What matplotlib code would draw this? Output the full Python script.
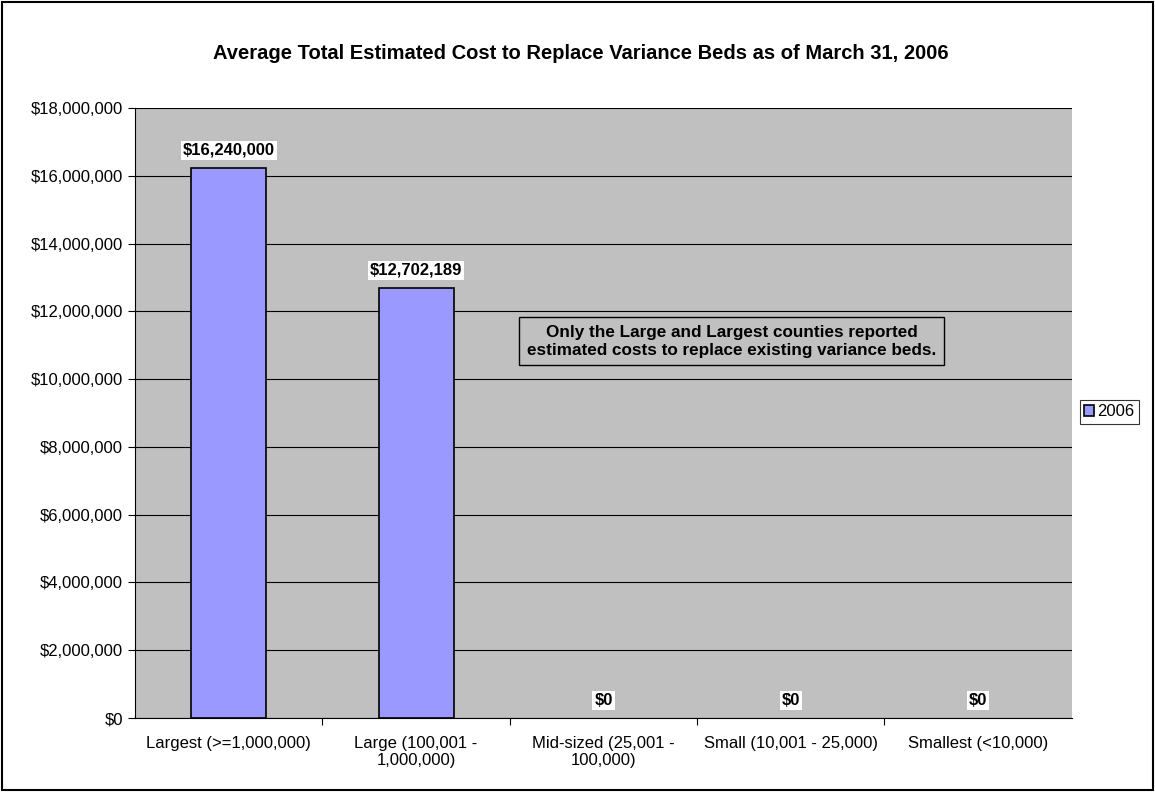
import matplotlib.pyplot as plt
from matplotlib.patches import Rectangle

plt.rcParams['font.family'] = ['Liberation Sans', 'DejaVu Sans']

categories = ['Largest (>=1,000,000)', 'Large (100,001 -\n1,000,000)', 'Mid-sized (25,001 -\n100,000)',
              'Small (10,001 - 25,000)', 'Smallest (<10,000)']
values = [16240000, 12702189, 0, 0, 0]
series_name = '2006'
yticks = list(range(0, 18000001, 2000000))

fig = plt.figure(figsize=(11.55, 7.92), dpi=100)
ax = fig.add_axes([0.1169, 0.0934, 0.8111, 0.7702])
ax.set_facecolor('#c0c0c0')

x = list(range(len(categories)))
# Excel draws nothing for the zero bars
widths = [1.2 if v else 0 for v in values]
ax.bar(x, values, width=0.4, color='#9999ff', edgecolor='black', linewidth=widths, label=series_name, zorder=3)

ax.set_xlim(-0.5, len(categories) - 0.5)
ax.set_ylim(0, 18000000)
ax.set_yticks(yticks)
ax.set_yticklabels(['${:,.0f}'.format(v) for v in yticks], fontsize=12)
ax.yaxis.grid(True, color='black', linewidth=0.8, zorder=0)
ax.set_xticks([i + 0.5 for i in range(len(categories) - 1)], minor=False)
ax.set_xticklabels([])
ax.set_xticks(x, minor=True)
ax.set_xticklabels(categories, minor=True, fontsize=12)
ax.tick_params(axis='x', which='minor', length=0, pad=13)
ax.tick_params(axis='x', which='major', length=5, color='black')
ax.tick_params(axis='y', length=5, color='black')
for s in ['top', 'right']:
    ax.spines[s].set_visible(False)
for s in ['left', 'bottom']:
    ax.spines[s].set_color('black')

for xi, v in zip(x, values):
    ax.annotate('${:,.0f}'.format(v), (xi, v), xytext=(0, 7), textcoords='offset points',
                ha='center', va='bottom', fontsize=12, fontweight='bold',
                bbox=dict(facecolor='white', edgecolor='none', pad=1.5), zorder=5)

ax.text(0.637, 0.618, 'Only the Large and Largest counties reported\nestimated costs to replace existing variance beds.',
        transform=ax.transAxes, ha='center', va='center', fontsize=12.3, fontweight='bold',
        linespacing=1.25,
        bbox=dict(facecolor='#c0c0c0', edgecolor='black', linewidth=1, boxstyle='square,pad=0.45'), zorder=6)

fig.suptitle('Average Total Estimated Cost to Replace Variance Beds as of March 31, 2006',
             x=0.503, y=0.945, fontsize=14.5, fontweight='bold')

leg = fig.legend(loc='center left', bbox_to_anchor=(0.935, 0.48), fontsize=12, frameon=True,
                 fancybox=False, edgecolor='black', handlelength=0.6, handleheight=0.6,
                 handletextpad=0.2, borderpad=0.25, borderaxespad=0)
leg.get_frame().set_linewidth(0.8)

fig.patches.append(Rectangle((0.002, 0.003), 0.996, 0.994, transform=fig.transFigure,
                             fill=False, edgecolor='black', linewidth=1.5))

fig.savefig('out.png', dpi=100)
